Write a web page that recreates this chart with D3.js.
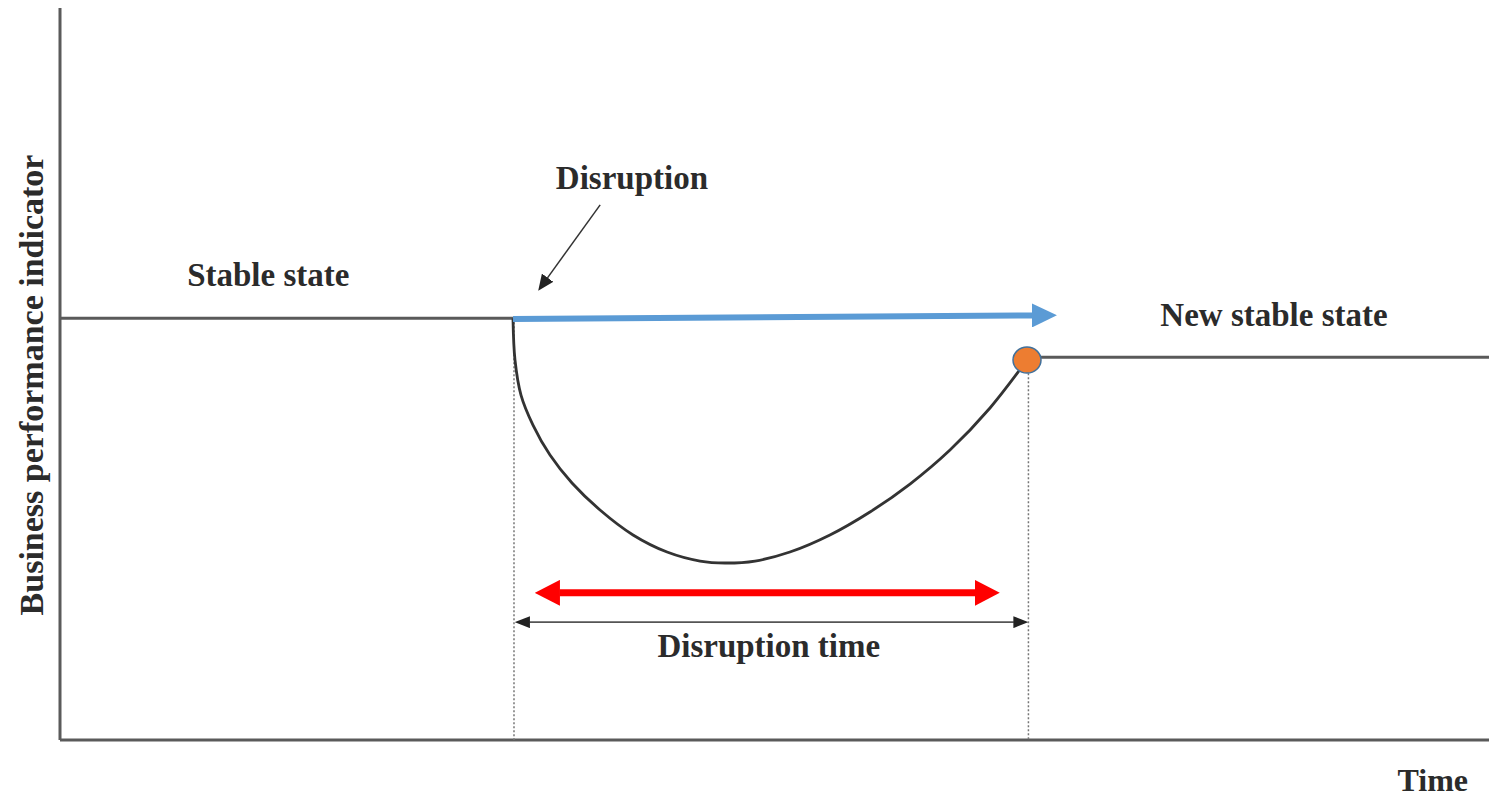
<!DOCTYPE html>
<html>
<head>
<meta charset="utf-8">
<script src="https://cdn.jsdelivr.net/npm/d3@7"></script>
<style>
  body { margin: 0; background: #fff; }
  text { font-family: "Liberation Serif", "Times New Roman", serif; font-weight: bold; fill: #2b2b2b; }
</style>
</head>
<body>
<svg id="chart"></svg>
<script>
// time / performance values, in arbitrary units (0-100)
const stableTime = [0, 31.7];
const stableLevel = 57.6;
const newStableTime = [67.7, 100];
const newStableLevel = 52.3;

const curveTime = [31.70, 31.84, 32.26, 33.10, 34.29, 35.83, 37.79, 40.10, 42.48, 44.79, 46.54,
  48.64, 51.08, 53.88, 56.68, 59.48, 62.28, 65.08, 67.67];
const curvePerf = [57.60, 51.91, 47.13, 43.03, 38.93, 35.11, 31.42, 28.01, 25.68, 24.45, 24.18,
  24.45, 25.68, 28.01, 31.15, 34.97, 39.62, 45.36, 51.91];

const blueArrowTime = [31.7, 69.8];
const blueArrowLevel = [57.5, 58.0];
const redArrowTime = [33.2, 65.8];
const redArrowLevel = 20.1;
const spanTime = [31.8, 67.8];
const spanLevel = 16.1;

const labels = ['Stable state', 'Disruption', 'New stable state', 'Disruption time'];
const axisTitles = ['Time', 'Business performance indicator'];

const W = 1489, H = 800;
const svg = d3.select('#chart').attr('width', W).attr('height', H);

const x = d3.scaleLinear().domain([0, 100]).range([60, 1489]);
const y = d3.scaleLinear().domain([0, 100]).range([740, 8]);

const defs = svg.append('defs');
// marker base sits at the line end, tip sticks out by len
function marker(id, color, len, half) {
  defs.append('marker')
    .attr('id', id)
    .attr('markerUnits', 'userSpaceOnUse')
    .attr('viewBox', `0 ${-half} ${len} ${half * 2}`)
    .attr('refX', 0.5)
    .attr('refY', 0)
    .attr('markerWidth', len)
    .attr('markerHeight', half * 2)
    .attr('orient', 'auto-start-reverse')
    .append('path')
    .attr('d', `M0,${-half} L${len},0 L0,${half} Z`)
    .attr('fill', color);
}
marker('head-blue', '#5b9bd5', 25, 12);
marker('head-red', '#ff0000', 25, 13);
marker('head-black', '#222', 15, 6);
marker('head-pointer', '#222', 16, 7);

// axes (plain lines, no ticks)
svg.append('line')
  .attr('x1', x(0)).attr('x2', x(0))
  .attr('y1', y(100)).attr('y2', y(0))
  .attr('stroke', '#5a5a5a').attr('stroke-width', 3);
svg.append('line')
  .attr('x1', x(0)).attr('x2', x(100))
  .attr('y1', y(0)).attr('y2', y(0))
  .attr('stroke', '#5a5a5a').attr('stroke-width', 3);

// dotted guides
svg.append('line')
  .attr('x1', x(curveTime[0]) + 1).attr('x2', x(curveTime[0]) + 1)
  .attr('y1', y(stableLevel)).attr('y2', y(0))
  .attr('stroke', '#777').attr('stroke-width', 1.5).attr('stroke-dasharray', '2,2');
svg.append('line')
  .attr('x1', x(newStableTime[0]) + 1).attr('x2', x(newStableTime[0]) + 1)
  .attr('y1', y(newStableLevel)).attr('y2', y(0))
  .attr('stroke', '#777').attr('stroke-width', 1.5).attr('stroke-dasharray', '2,2');

// stable states
svg.append('line')
  .attr('x1', x(stableTime[0])).attr('x2', x(stableTime[1]))
  .attr('y1', y(stableLevel)).attr('y2', y(stableLevel))
  .attr('stroke', '#5a5a5a').attr('stroke-width', 3);
svg.append('line')
  .attr('x1', x(newStableTime[0])).attr('x2', x(newStableTime[1]))
  .attr('y1', y(newStableLevel)).attr('y2', y(newStableLevel))
  .attr('stroke', '#5a5a5a').attr('stroke-width', 3);

// disruption curve
const line = d3.line()
  .x(d => x(d[0]))
  .y(d => y(d[1]))
  .curve(d3.curveCatmullRom.alpha(0.5));
svg.append('path')
  .datum(d3.zip(curveTime, curvePerf))
  .attr('d', line)
  .attr('fill', 'none')
  .attr('stroke', '#333')
  .attr('stroke-width', 2.8);

// blue arrow
svg.append('line')
  .attr('x1', x(blueArrowTime[0])).attr('x2', x(blueArrowTime[1]) - 25)
  .attr('y1', y(blueArrowLevel[0])).attr('y2', y(blueArrowLevel[1]))
  .attr('stroke', '#5b9bd5').attr('stroke-width', 6)
  .attr('marker-end', 'url(#head-blue)');

// red double arrow
svg.append('line')
  .attr('x1', x(redArrowTime[0]) + 25).attr('x2', x(redArrowTime[1]) - 25)
  .attr('y1', y(redArrowLevel)).attr('y2', y(redArrowLevel))
  .attr('stroke', '#ff0000').attr('stroke-width', 7)
  .attr('marker-start', 'url(#head-red)')
  .attr('marker-end', 'url(#head-red)');

// disruption time span
svg.append('line')
  .attr('x1', x(spanTime[0]) + 15).attr('x2', x(spanTime[1]) - 15)
  .attr('y1', y(spanLevel)).attr('y2', y(spanLevel))
  .attr('stroke', '#555').attr('stroke-width', 1.8)
  .attr('marker-start', 'url(#head-black)')
  .attr('marker-end', 'url(#head-black)');

// recovery point
svg.append('ellipse')
  .attr('cx', x(curveTime[curveTime.length - 1])).attr('cy', y(curvePerf[curvePerf.length - 1]))
  .attr('rx', 14).attr('ry', 13)
  .attr('fill', '#ed7d31')
  .attr('stroke', '#41719c').attr('stroke-width', 1.5);

// pointer to the disruption
svg.append('line')
  .attr('x1', x(37.8)).attr('y1', y(73.1))
  .attr('x2', x(34.1)).attr('y2', y(63.1))
  .attr('stroke', '#333').attr('stroke-width', 1.5)
  .attr('marker-end', 'url(#head-pointer)');

// labels
svg.append('text').attr('x', x(8.9)).attr('y', y(62.0)).attr('font-size', 33).text(labels[0]);
svg.append('text').attr('x', x(34.7)).attr('y', y(75.3)).attr('font-size', 33).text(labels[1]);
svg.append('text').attr('x', x(77)).attr('y', y(56.5)).attr('font-size', 33).text(labels[2]);
svg.append('text').attr('x', x(49.6)).attr('y', y(11.3)).attr('font-size', 33)
  .attr('text-anchor', 'middle').text(labels[3]);

svg.append('text').attr('x', x(93.6)).attr('y', 791).attr('font-size', 32).text(axisTitles[0]);
svg.append('text')
  .attr('transform', `translate(43,${y(48.5)}) rotate(-90)`)
  .attr('text-anchor', 'middle')
  .attr('font-size', 34)
  .text(axisTitles[1]);
</script>
</body>
</html>
